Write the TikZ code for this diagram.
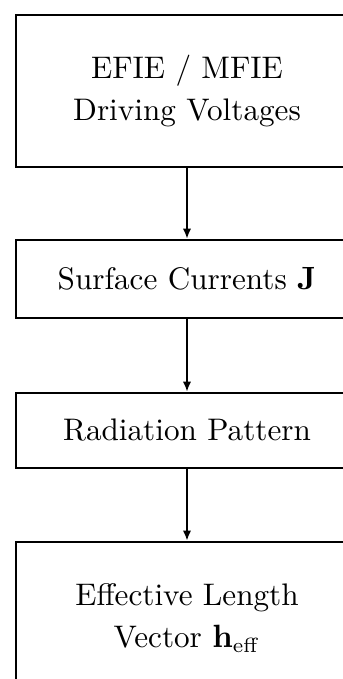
\documentclass[tikz,border=0pt]{standalone}
\usetikzlibrary{arrows.meta}
\begin{document}
\begin{tikzpicture}[x=0.34pt,y=-0.34pt,
		stage/.style={draw,line width=0.9pt,align=center,minimum width=116.3pt,inner sep=0pt,
			font=\fontsize{10.6}{14.3}\selectfont},
		flow/.style={-{Latex[length=3.4pt,width=2.8pt]},semithick}]
			\useasboundingbox (0,0) rectangle (343,679); % Bildausschnitt
			\clip (0,0) rectangle (343,679);
			\node[stage,minimum height=51.7pt] (drive) at (187,91) {EFIE / MFIE\\Driving Voltages};
			\node[stage,minimum height=26.5pt] (curr) at (187,279) {Surface Currents $\mathbf{J}$};
			\node[stage,minimum height=25.5pt] (rad) at (187,430.5) {Radiation Pattern};
			\node[stage,minimum height=51.7pt] (heff) at (187,618) {Effective Length\\Vector $\mathbf{h}_{\mathrm{eff}}$};
			\draw[flow] (drive) -- (curr);
			\draw[flow] (curr) -- (rad);
			\draw[flow] (rad) -- (heff);
		\end{tikzpicture}
\end{document}
